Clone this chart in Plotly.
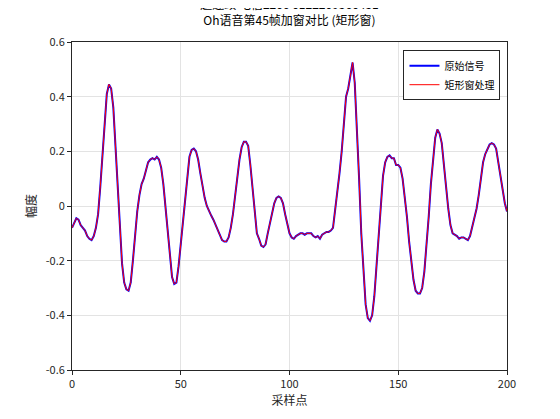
import plotly.graph_objects as go

n = list(range(201))
signal = [-0.08,-0.06,-0.045,-0.05,-0.07,-0.08,-0.09,-0.11,-0.12,-0.125,
-0.11,-0.08,-0.03,0.07,0.19,0.31,0.41,0.445,0.43,0.36,
0.22,0.06,-0.09,-0.21,-0.28,-0.305,-0.31,-0.28,-0.20,-0.10,
-0.02,0.04,0.08,0.10,0.13,0.16,0.17,0.175,0.17,0.18,
0.17,0.14,0.08,-0.01,-0.11,-0.20,-0.26,-0.285,-0.28,-0.22,
-0.14,-0.05,0.04,0.12,0.18,0.205,0.21,0.20,0.17,0.12,
0.07,0.03,0.0,-0.02,-0.035,-0.05,-0.07,-0.09,-0.11,-0.125,
-0.13,-0.13,-0.115,-0.08,-0.03,0.04,0.11,0.17,0.215,0.235,
0.235,0.22,0.15,0.06,-0.03,-0.10,-0.12,-0.145,-0.15,-0.14,
-0.10,-0.06,-0.02,0.01,0.03,0.035,0.03,0.01,-0.03,-0.07,
-0.10,-0.115,-0.12,-0.11,-0.105,-0.10,-0.10,-0.105,-0.10,-0.10,
-0.10,-0.11,-0.115,-0.11,-0.12,-0.105,-0.10,-0.095,-0.095,-0.09,
-0.08,-0.02,0.05,0.12,0.20,0.30,0.40,0.43,0.48,0.525,
0.45,0.30,0.10,-0.10,-0.25,-0.36,-0.41,-0.42,-0.40,-0.33,
-0.22,-0.10,0.02,0.11,0.16,0.18,0.185,0.175,0.175,0.15,
0.15,0.14,0.10,0.04,-0.04,-0.13,-0.21,-0.27,-0.31,-0.32,
-0.32,-0.30,-0.24,-0.15,-0.04,0.08,0.18,0.25,0.28,0.265,
0.23,0.16,0.07,-0.01,-0.07,-0.10,-0.105,-0.11,-0.12,-0.115,
-0.115,-0.12,-0.125,-0.11,-0.08,-0.05,-0.01,0.04,0.10,0.16,
0.19,0.21,0.225,0.23,0.225,0.21,0.16,0.10,0.05,0.01,-0.02]

windowed = list(signal)

font = "Noto Sans CJK SC, Liberation Sans, sans-serif"
fig = go.Figure()
fig.add_trace(go.Scatter(x=n, y=signal, mode="lines", name="原始信号",
                         line=dict(color="#0000ff", width=2)))
fig.add_trace(go.Scatter(x=n, y=windowed, mode="lines", name="矩形窗处理",
                         line=dict(color="#ff0000", width=1)))
ax = dict(showline=True, linecolor="#262626", linewidth=1, mirror=True,
          gridcolor="#e3e3e3", ticks="outside", ticklen=4, tickcolor="#262626",
          zeroline=False, tickfont=dict(size=11, color="#262626"))
fig.update_layout(
    width=545, height=404, plot_bgcolor="white", paper_bgcolor="white",
    font=dict(family=font, color="#262626"),
    margin=dict(l=64, r=46, t=34, b=37),
    title=dict(text="赵连政 电信2206 0122209360431<br>Oh语音第45帧加窗对比 (矩形窗)",
               x=0.5, xanchor="center", xref="paper", y=0.997, yanchor="top",
               font=dict(size=12, color="#000")),
    xaxis=dict(range=[0, 200], tickvals=[0, 50, 100, 150, 200],
               title=dict(text="采样点", font=dict(size=12), standoff=0), **ax),
    yaxis=dict(range=[-0.6, 0.6], tickvals=[-0.6, -0.4, -0.2, 0, 0.2, 0.4, 0.6],
               ticktext=["-0.6", "-0.4", "-0.2", "0", "0.2", "0.4", "0.6"],
               title=dict(text="幅度", font=dict(size=12), standoff=6), **ax),
    legend=dict(x=0.985, y=0.975, xanchor="right", yanchor="top",
                bgcolor="white", bordercolor="#262626", borderwidth=1,
                font=dict(size=10, color="#000"), tracegroupgap=0),
)
fig.write_html("out.html")
